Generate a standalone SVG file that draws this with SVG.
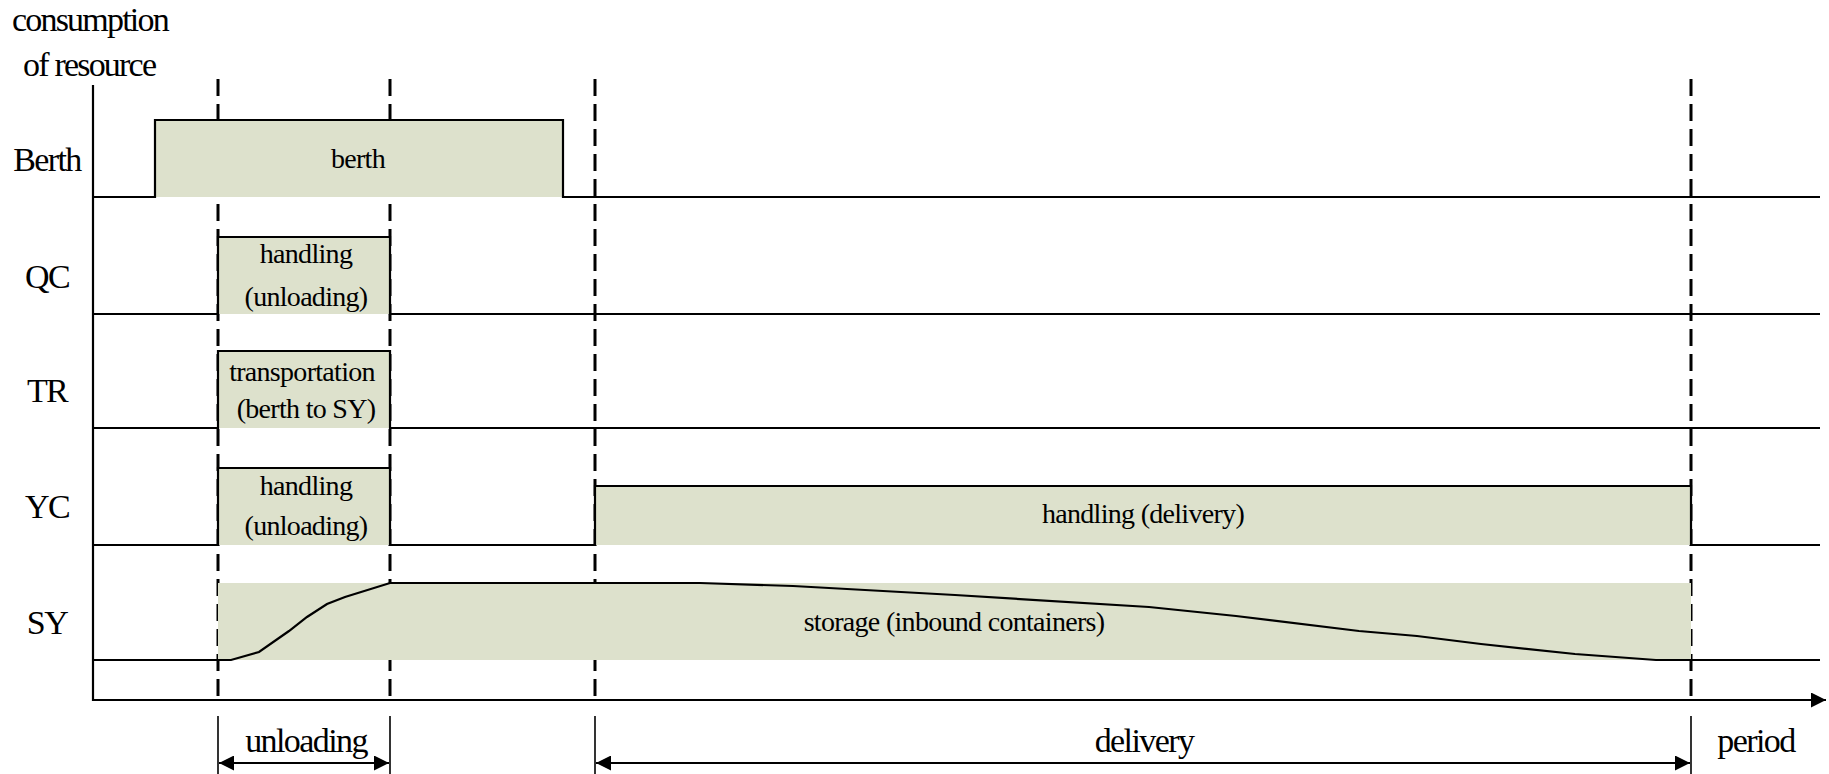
<svg xmlns="http://www.w3.org/2000/svg" width="1829" height="774" viewBox="0 0 1829 774">
<style>
text{font-family:"Liberation Serif","Times New Roman",serif;fill:#000}
.lab{font-size:34px;letter-spacing:-1.6px;text-anchor:middle}
.in{font-size:28px;letter-spacing:-0.7px;text-anchor:middle}
.fill{fill:#dde1cc;stroke:none}
.ln{fill:none;stroke:#000;stroke-width:2.2}
.dash{stroke:#000;stroke-width:3;stroke-dasharray:17 8;fill:none}
.tick{stroke:#000;stroke-width:1.6;fill:none}
.dim{stroke:#000;stroke-width:2;fill:none;marker-start:url(#ah);marker-end:url(#ah)}
</style>
<defs>
<marker id="ah" viewBox="0 0 10 10" refX="10" refY="5" markerWidth="20" markerHeight="15" markerUnits="userSpaceOnUse" orient="auto-start-reverse">
<path d="M0,0 L10,5 L0,10 Z" fill="#000"/>
</marker>
<marker id="ax" viewBox="0 0 10 10" refX="10" refY="5" markerWidth="16" markerHeight="15" markerUnits="userSpaceOnUse" orient="auto">
<path d="M0,0 L10,5 L0,10 Z" fill="#000"/>
</marker>
</defs>
<rect width="1829" height="774" fill="#fff"/>

<g id="guides">
<line class="dash" x1="218" y1="79" x2="218" y2="700"/>
<line class="dash" x1="390" y1="79" x2="390" y2="700"/>
<line class="dash" x1="595" y1="79" x2="595" y2="700"/>
<line class="dash" x1="1691" y1="79" x2="1691" y2="700"/>
</g>

<g id="fills">
<rect class="fill" x="155" y="120" width="408" height="77"/>
<rect class="fill" x="218" y="237" width="172" height="77"/>
<rect class="fill" x="218" y="351" width="172" height="77"/>
<rect class="fill" x="218" y="468" width="172" height="77"/>
<rect class="fill" x="595" y="486" width="1096" height="59"/>
<rect class="fill" x="218" y="583" width="1473" height="77"/>
</g>

<g id="axis-title">
<text x="12" y="31" style="font-size:34px;letter-spacing:-1.8px">consumption</text>
<text x="23" y="76" style="font-size:34px;letter-spacing:-1.8px">of resource</text>
</g>

<g id="row-berth">
<text class="lab" x="47" y="171">Berth</text>
<path class="ln" d="M93,197 H155 V120 H563 V197 H1820"/>
<text class="in" x="358" y="168">berth</text>
</g>
<g id="row-qc">
<text class="lab" x="47" y="288">QC</text>
<path class="ln" d="M93,314 H218 V237 H390 V314 H1820"/>
<text class="in" x="306" y="263">handling</text>
<text class="in" x="306" y="306">(unloading)</text>
</g>
<g id="row-tr">
<text class="lab" x="47" y="402">TR</text>
<path class="ln" d="M93,428 H218 V351 H390 V428 H1820"/>
<text class="in" x="302" y="381">transportation</text>
<text class="in" x="306" y="418">(berth to SY)</text>
</g>
<g id="row-yc">
<text class="lab" x="47" y="518">YC</text>
<path class="ln" d="M93,545 H218 V468 H390 V545 H595 V486 H1691 V545 H1820"/>
<text class="in" x="306" y="495">handling</text>
<text class="in" x="306" y="535">(unloading)</text>
<text class="in" x="1143" y="523">handling (delivery)</text>
</g>
<g id="row-sy">
<text class="lab" x="47" y="634">SY</text>
<path class="ln" d="M93,660 H231 L259,652 L289,631 L307,617 L327,604 L345,597 L390,583 L700,583 L793,586 L955,595 L1149,607 L1236,616 L1359,631 L1417,636 L1481,644 L1575,654 L1656,660 H1820"/>
<text class="in" x="954" y="631">storage (inbound containers)</text>
</g>

<g id="connectors">
<line x1="93" y1="85" x2="93" y2="701" class="ln"/>
<line x1="92" y1="700" x2="1826" y2="700" class="ln" marker-end="url(#ax)"/>
<line class="tick" x1="218" y1="716" x2="218" y2="774"/>
<line class="tick" x1="390" y1="716" x2="390" y2="774"/>
<line class="tick" x1="595" y1="716" x2="595" y2="774"/>
<line class="tick" x1="1691" y1="716" x2="1691" y2="774"/>
<line class="dim" x1="219" y1="763" x2="389" y2="763"/>
<line class="dim" x1="596" y1="763" x2="1690" y2="763"/>
</g>

<g id="period-labels">
<text class="lab" x="306" y="752">unloading</text>
<text class="lab" x="1144" y="752">delivery</text>
<text class="lab" x="1756" y="752">period</text>
</g>
</svg>
